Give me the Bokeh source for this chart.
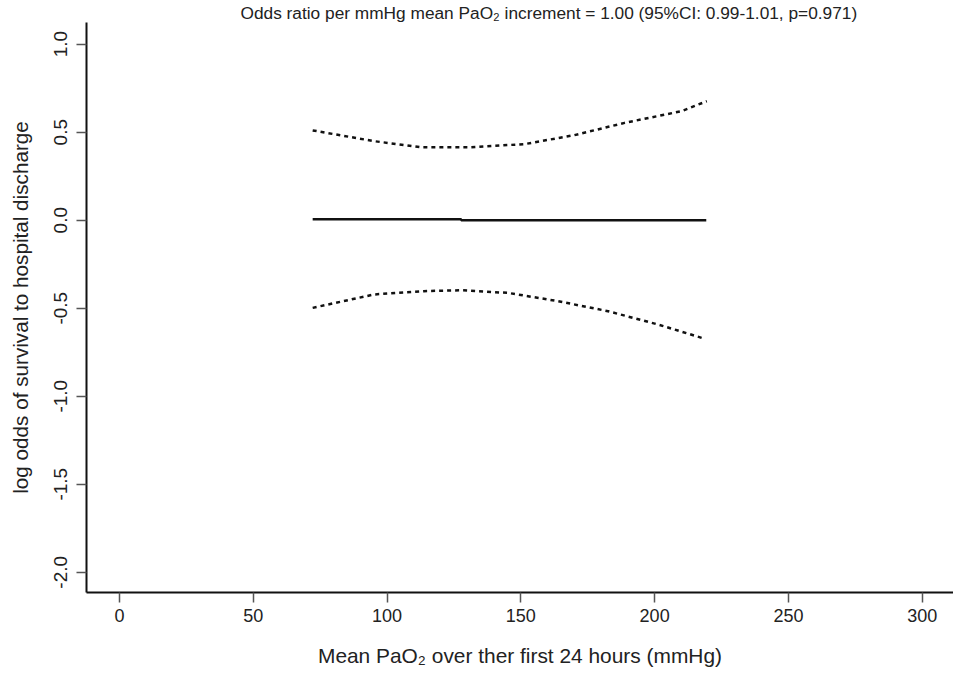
from bokeh.plotting import figure
from bokeh.models import Range1d, FixedTicker, PrintfTickFormatter
from bokeh.embed import file_html
from bokeh.resources import INLINE

# Data
fit_x = [72.2, 127.7, 127.7, 219.3]
fit_y = [0.005, 0.005, 0.0, 0.0]
upper_x = [72.2, 95.1, 112.7, 131.5, 151.3, 170.0, 188.8, 210.0, 219.5]
upper_y = [0.51, 0.449, 0.415, 0.415, 0.432, 0.483, 0.553, 0.619, 0.676]
lower_x = [72.2, 95.1, 113.8, 127.7, 145.2, 163.9, 182.6, 201.4, 218.8]
lower_y = [-0.498, -0.422, -0.403, -0.398, -0.413, -0.46, -0.517, -0.593, -0.674]
x_ticks = [0, 50, 100, 150, 200, 250, 300]
y_ticks = [-2.0, -1.5, -1.0, -0.5, 0.0, 0.5, 1.0]

title_text = "Odds ratio per mmHg mean PaO\u2082 increment = 1.00 (95%CI: 0.99-1.01, p=0.971)"
x_label = "Mean PaO\u2082 over ther first 24 hours (mmHg)"
y_label = "log odds of survival to hospital discharge"

FONT = "Liberation Sans"
TXT = "#222222"

p = figure(width=953, height=676, output_backend="svg", toolbar_location=None,
           x_range=Range1d(-12.33, 311.7), y_range=Range1d(-2.115, 1.123),
           min_border_left=86, min_border_right=0, min_border_top=21, min_border_bottom=84)
p.outline_line_color = None
p.grid.visible = False
p.background_fill_color = "white"
p.border_fill_color = "white"

p.title.text = title_text
p.title.text_font = FONT
p.title.text_font_size = "17.3px"
p.title.text_font_style = "normal"
p.title.text_color = TXT
p.title.align = "left"
p.title.offset = 154
p.title.standoff = 0

p.line(fit_x, fit_y, line_color="#111111", line_width=2.5)
p.line(upper_x, upper_y, line_color="#111111", line_width=2.5, line_dash="4 4")
p.line(lower_x, lower_y, line_color="#111111", line_width=2.5, line_dash="4 4")

for ax in (p.xaxis[0], p.yaxis[0]):
    ax.axis_line_color = "#111111"
    ax.axis_line_width = 2
    ax.major_tick_out = 10
    ax.major_tick_in = 0
    ax.major_tick_line_color = "#555555"
    ax.major_tick_line_width = 1.5
    ax.minor_tick_line_color = None
    ax.major_label_text_font = FONT
    ax.major_label_text_font_size = "18px"
    ax.major_label_text_color = TXT
    ax.axis_label_text_font = FONT
    ax.axis_label_text_font_style = "normal"
    ax.axis_label_text_color = TXT

p.xaxis.ticker = FixedTicker(ticks=x_ticks)
p.xaxis.formatter = PrintfTickFormatter(format="%d")
p.xaxis.major_label_standoff = 6
p.xaxis.axis_label = x_label
p.xaxis.axis_label_text_font_size = "20.9px"
p.xaxis.axis_label_standoff = 19

p.yaxis.ticker = FixedTicker(ticks=y_ticks)
p.yaxis.formatter = PrintfTickFormatter(format="%.1f")
p.yaxis.major_label_orientation = "vertical"
p.yaxis.major_label_text_font_size = "19px"
p.yaxis.major_label_standoff = 9
p.yaxis.axis_label = y_label
p.yaxis.axis_label_text_font_size = "20.7px"
p.yaxis.axis_label_standoff = 20

open("out.html", "w").write(file_html(p, INLINE))
